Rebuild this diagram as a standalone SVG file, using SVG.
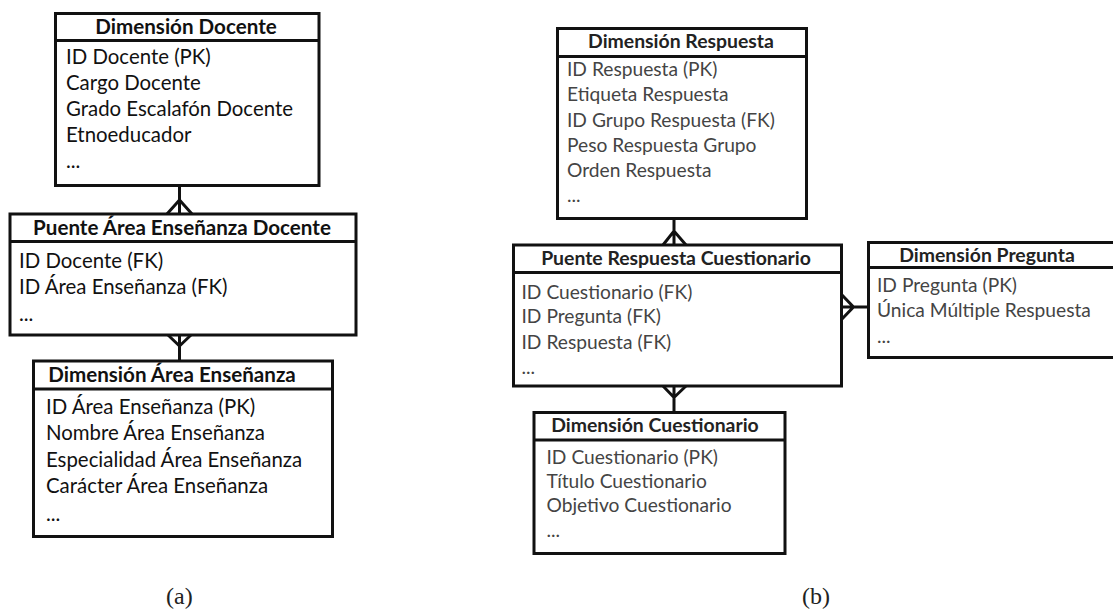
<svg xmlns="http://www.w3.org/2000/svg" width="1113" height="610" viewBox="0 0 1113 610">
  <style>
    .box { fill: #fff; stroke: #111; stroke-width: 3; }
    .sep { stroke: #111; stroke-width: 3; }
    .conn { stroke: #111; stroke-width: 3; fill: none; stroke-linejoin: miter; }
    .title-a { font-family: Lato, "Open Sans", sans-serif; font-weight: bold; font-size: 20.6px; fill: #111; text-anchor: middle; }
    .body-a { font-family: Lato, "Open Sans", sans-serif; font-size: 20.4px; fill: #111; }
    .title-b { font-family: Lato, "Open Sans", sans-serif; font-weight: bold; font-size: 19.4px; fill: #222; text-anchor: middle; }
    .body-b { font-family: Lato, "Open Sans", sans-serif; font-size: 19.2px; fill: #444; }
    .cap { font-family: "Liberation Serif", serif; font-size: 24px; fill: #222; }
  </style>
  <rect width="1113" height="610" fill="#fff"/>

  <!-- connectors -->
  <g id="connectors">
    <!-- Docente to Puente Área Enseñanza Docente -->
    <path class="conn" d="M179.5 186 V214 M167 214 L179.5 200 L192 214"/>
    <!-- Puente Área Enseñanza Docente to Área Enseñanza -->
    <path class="conn" d="M179.5 335 V361 M168 335 L179.5 346 L191 335"/>
    <!-- Respuesta to Puente Respuesta Cuestionario -->
    <path class="conn" d="M674 218 V245 M663 245 L674 231 L686 245"/>
    <!-- Puente Respuesta Cuestionario to Pregunta -->
    <path class="conn" d="M842 307 H868 M842 295 L853.5 307 L842 319"/>
    <!-- Puente Respuesta Cuestionario to Cuestionario -->
    <path class="conn" d="M674 386 V412 M663 386 L674 397.5 L686 386"/>
  </g>

  <!-- (a) -->
  <g id="dim-docente">
    <rect class="box" x="55.5" y="13.5" width="263.5" height="172"/>
    <line class="sep" x1="55.5" y1="40.5" x2="319" y2="40.5"/>
    <text class="title-a" x="186" y="34">Dimensión Docente</text>
    <text class="body-a" x="66" y="64">ID Docente (PK)</text>
    <text class="body-a" x="66" y="90">Cargo Docente</text>
    <text class="body-a" x="66" y="116">Grado Escalafón Docente</text>
    <text class="body-a" x="66" y="142">Etnoeducador</text>
    <text class="body-a" x="66" y="168">...</text>
  </g>

  <g id="puente-area-docente">
    <rect class="box" x="10" y="214" width="346" height="121"/>
    <line class="sep" x1="10" y1="241.5" x2="356" y2="241.5"/>
    <text class="title-a" x="182" y="235">Puente Área Enseñanza Docente</text>
    <text class="body-a" x="19" y="268">ID Docente (FK)</text>
    <text class="body-a" x="19" y="294">ID Área Enseñanza (FK)</text>
    <text class="body-a" x="19" y="321">...</text>
  </g>

  <g id="dim-area-ensenanza">
    <rect class="box" x="33.5" y="361" width="299" height="175.5"/>
    <line class="sep" x1="33.5" y1="389" x2="332.5" y2="389"/>
    <text class="title-a" x="172" y="382">Dimensión Área Enseñanza</text>
    <text class="body-a" x="46" y="414">ID Área Enseñanza (PK)</text>
    <text class="body-a" x="46" y="440">Nombre Área Enseñanza</text>
    <text class="body-a" x="46" y="466.5">Especialidad Área Enseñanza</text>
    <text class="body-a" x="46" y="493">Carácter Área Enseñanza</text>
    <text class="body-a" x="46" y="521">...</text>
  </g>

  <!-- (b) -->
  <g id="dim-respuesta">
    <rect class="box" x="557.5" y="28.5" width="249" height="190"/>
    <line class="sep" x1="557.5" y1="56.5" x2="806.5" y2="56.5"/>
    <text class="title-b" x="681" y="47.5">Dimensión Respuesta</text>
    <text class="body-b" x="567" y="76">ID Respuesta (PK)</text>
    <text class="body-b" x="567" y="101">Etiqueta Respuesta</text>
    <text class="body-b" x="567" y="126.5">ID Grupo Respuesta (FK)</text>
    <text class="body-b" x="567" y="151.5">Peso Respuesta Grupo</text>
    <text class="body-b" x="567" y="176.5">Orden Respuesta</text>
    <text class="body-b" x="567" y="201.5">...</text>
  </g>

  <g id="puente-respuesta-cuestionario">
    <rect class="box" x="513.5" y="245" width="328" height="141"/>
    <line class="sep" x1="513.5" y1="272.5" x2="841.5" y2="272.5"/>
    <text class="title-b" x="676" y="265">Puente Respuesta Cuestionario</text>
    <text class="body-b" x="521.5" y="298.5">ID Cuestionario (FK)</text>
    <text class="body-b" x="521.5" y="323">ID Pregunta (FK)</text>
    <text class="body-b" x="521.5" y="348.5">ID Respuesta (FK)</text>
    <text class="body-b" x="521.5" y="373.5">...</text>
  </g>

  <g id="dim-pregunta">
    <rect class="box" x="868.5" y="242.5" width="252" height="115"/>
    <line class="sep" x1="868.5" y1="267.5" x2="1120" y2="267.5"/>
    <text class="title-b" x="987" y="262">Dimensión Pregunta</text>
    <text class="body-b" x="877" y="291.5">ID Pregunta (PK)</text>
    <text class="body-b" x="877" y="317">Única Múltiple Respuesta</text>
    <text class="body-b" x="877" y="343">...</text>
  </g>

  <g id="dim-cuestionario">
    <rect class="box" x="534" y="412.5" width="251" height="141"/>
    <line class="sep" x1="534" y1="440" x2="785" y2="440"/>
    <text class="title-b" x="655" y="431.5">Dimensión Cuestionario</text>
    <text class="body-b" x="546.5" y="464">ID Cuestionario (PK)</text>
    <text class="body-b" x="546.5" y="488">Título Cuestionario</text>
    <text class="body-b" x="546.5" y="512">Objetivo Cuestionario</text>
    <text class="body-b" x="546.5" y="537">...</text>
  </g>

  <!-- captions -->
  <text class="cap" x="166" y="604">(a)</text>
  <text class="cap" x="802" y="604">(b)</text>
</svg>
